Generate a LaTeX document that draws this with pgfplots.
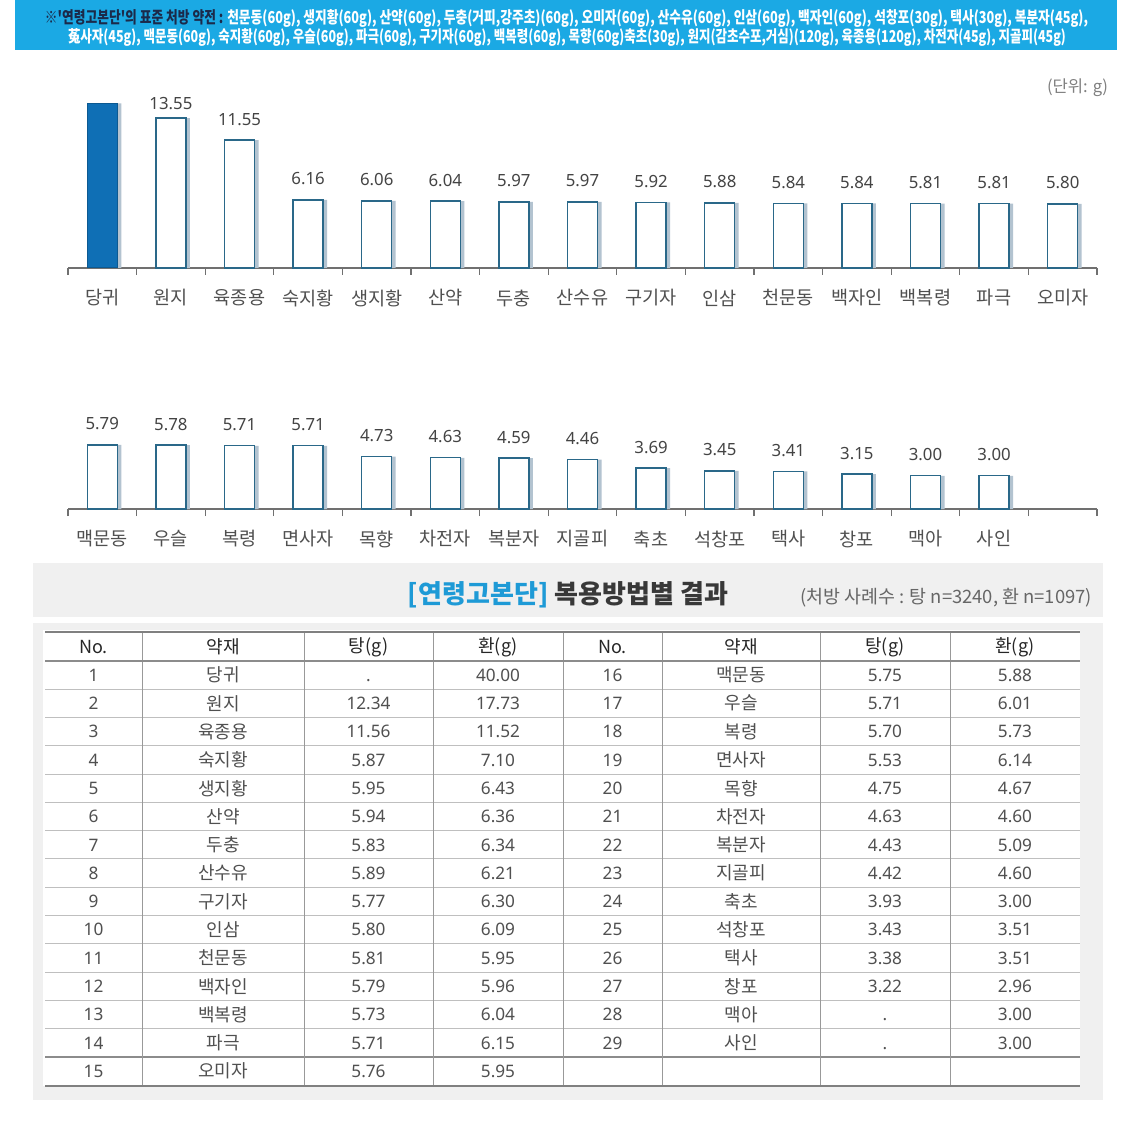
\documentclass[border=0pt]{standalone}
\usepackage{pgfplots}
\pgfplotsset{compat=1.18}
\usepackage{pgfplotstable}
\usepackage{graphicx}
\usepackage{fontspec}
\setmainfont{Noto Sans}
\newfontfamily\kr{Noto Sans CJK KR}
\definecolor{banner}{HTML}{1BA9E4}
\definecolor{navy}{HTML}{1B2A4A}
\definecolor{baredge}{HTML}{2A6889}
\definecolor{barfill}{HTML}{0F6FB5}
\definecolor{shadowc}{HTML}{B3C3D0}
\definecolor{txt}{HTML}{505050}
\definecolor{valtxt}{HTML}{444444}
\definecolor{titleblue}{HTML}{1E9AD6}
\definecolor{panel}{HTML}{F0F0F0}
\definecolor{axisgray}{HTML}{707070}

\pgfplotstableread{
x y
0 14.88
1 13.55
2 11.55
3 6.16
4 6.06
5 6.04
6 5.97
7 5.97
8 5.92
9 5.88
10 5.84
11 5.84
12 5.81
13 5.81
14 5.80
}\topdata

\pgfplotstableread{
x y
0 5.79
1 5.78
2 5.71
3 5.71
4 4.73
5 4.63
6 4.59
7 4.46
8 3.69
9 3.45
10 3.41
11 3.15
12 3.00
13 3.00
}\botdata

\pgfplotsset{
  barchart/.style={
    scale only axis, width=514.5pt,
    xmin=-0.5, xmax=14.5, ymin=0,
    axis x line*=bottom, axis y line=none, ytick=\empty,
    x axis line style={draw=axisgray, line width=0.6pt, -},
    xtick={0,...,14}, major tick length=0pt,
    minor xtick={-0.5,0.5,...,14.5}, minor tick length=3.5pt, tick align=outside,
    minor tick style={draw=axisgray, line width=0.6pt},
    xticklabel style={font=\kr\fontsize{9.3}{10}\selectfont, text=txt, anchor=center, yshift=-15pt},
    clip=false,
  },
  shadowbar/.style={ybar, bar width=15pt, bar shift=2pt, draw=none, fill=shadowc},
  valbar/.style={ybar, bar width=15pt, bar shift=0pt, draw=baredge, fill=white, line width=0.7pt,
    nodes near coords={\pgfmathprintnumber[fixed,fixed zerofill,precision=2,assume math mode=true]{\pgfplotspointmeta}},
    nodes near coords style={font=\fontsize{8.4}{9}\selectfont, text=valtxt, anchor=south, inner sep=0pt, yshift=7pt}},
}
\tikzset{
  tnum/.style={font=\fontsize{8.6}{9}\selectfont, text=txt, inner sep=0pt, text height=6.2pt, text depth=0pt},
  tkr/.style={font=\kr\fontsize{9}{10}\selectfont, text=txt, inner sep=0pt},
  thead/.style={font=\kr\fontsize{9}{10}\selectfont, text=black!85, inner sep=0pt},
}

\begin{document}
\begin{tikzpicture}
\useasboundingbox (0,0) rectangle (573pt,-564pt);
\fill[white] (0,0) rectangle (573pt,-564pt);

% banner
\fill[banner] (7.5pt,0pt) rectangle (558.5pt,-25pt);
\node[inner sep=0pt] at (283.25pt,-9pt) {\resizebox{521.5pt}{7pt}{\kr\bfseries\textcolor{navy}{※'연령고본단'의 표준 처방 약전 :} \textcolor{white}{천문동(60g), 생지황(60g), 산약(60g), 두충(거피,강주초)(60g), 오미자(60g), 산수유(60g), 인삼(60g), 백자인(60g), 석창포(30g), 택사(30g), 복분자(45g),}}};
\node[inner sep=0pt] at (283.5pt,-18.7pt) {\resizebox{499pt}{7pt}{\kr\bfseries\textcolor{white}{菟사자(45g), 맥문동(60g), 숙지황(60g), 우슬(60g), 파극(60g), 구기자(60g), 백복령(60g), 목향(60g)축초(30g), 원지(감초수포,거심)(120g), 육종용(120g), 차전자(45g), 지골피(45g)}}};

% unit
\node[inner sep=0pt] at (538.75pt,-44pt) {\resizebox{30.5pt}{!}{\kr\color{gray}(단위: g)}};

% top chart
\begin{axis}[barchart, at={(34pt,-134pt)}, anchor=south west, height=83pt, ymax=15,
  xticklabels={당귀,원지,육종용,숙지황,생지황,산약,두충,산수유,구기자,인삼,천문동,백자인,백복령,파극,오미자}]
\addplot[shadowbar] table[x=x,y=y] {\topdata};
\addplot[ybar, bar width=15pt, bar shift=0pt, draw=barfill!80!black, fill=barfill, line width=0.5pt, restrict x to domain=0:0] table[x=x,y=y] {\topdata};
\addplot[valbar, restrict x to domain=1:1, nodes near coords style={yshift=-3pt}] table[x=x,y=y] {\topdata};
\addplot[valbar, restrict x to domain=2:14] table[x=x,y=y] {\topdata};
\end{axis}

% bottom chart
\begin{axis}[barchart, at={(34pt,-254.5pt)}, anchor=south west, height=38.745pt, ymax=7,
  xticklabels={맥문동,우슬,복령,면사자,목향,차전자,복분자,지골피,축초,석창포,택사,창포,맥아,사인,{}}]
\addplot[shadowbar] table[x=x,y=y] {\botdata};
\addplot[valbar] table[x=x,y=y] {\botdata};
\end{axis}

% panel
\fill[panel] (16.5pt,-281.5pt) rectangle (551.5pt,-308.5pt);
\fill[panel] (16.5pt,-311.5pt) rectangle (551.5pt,-550pt);
\fill[white] (21.5pt,-315pt) rectangle (540pt,-543pt);

\node[inner sep=0pt] at (284pt,-297.5pt) {\resizebox{160pt}{!}{\kr\bfseries\textcolor{titleblue}{[연령고본단]} \textcolor{black!78}{복용방법별 결과}}};
\node[inner sep=0pt] at (473pt,-299pt) {\resizebox{146pt}{!}{\kr\textcolor{black!60}{(처방 사례수 : 탕 n=3240, 환 n=1097)}}};

% table grid
\foreach \r in {0,...,13} {
  \pgfmathsetmacro\yy{-(689.15+28.3*\r)/2}
  \draw[black!25, line width=0.5pt] (22.5pt,\yy pt) -- (540pt,\yy pt);
}
\draw[black!45, line width=1.1pt] (22.5pt,-528.5pt) -- (540pt,-528.5pt);
\foreach \xx in {142,304,433,563,662,820,950} {
  \draw[black!40, line width=0.5pt] (\xx/2 pt,-316pt) -- (\xx/2 pt,-543pt);
}
\draw[black!50, line width=1.2pt] (22.5pt,-316pt) -- (540pt,-316pt);
\draw[black!45, line width=1.3pt] (22.5pt,-330.5pt) -- (540pt,-330.5pt);
\draw[black!50, line width=1.2pt] (22.5pt,-543pt) -- (540pt,-543pt);

% header
\foreach \cx/\lab in {46.75/No., 111.5/약재, 184.25/탕(g), 249/환(g), 306.25/No., 370.5/약재, 442.5/탕(g), 507.5/환(g)} {
  \node[thead] at (\cx pt,-323.5pt) {\lab};
}

% rows
\foreach \n/\a/\t/\h [count=\i from 0] in {1/당귀/./40.00, 2/원지/12.34/17.73, 3/육종용/11.56/11.52, 4/숙지황/5.87/7.10, 5/생지황/5.95/6.43, 6/산약/5.94/6.36, 7/두충/5.83/6.34, 8/산수유/5.89/6.21, 9/구기자/5.77/6.30, 10/인삼/5.80/6.09, 11/천문동/5.81/5.95, 12/백자인/5.79/5.96, 13/백복령/5.73/6.04, 14/파극/5.71/6.15, 15/오미자/5.76/5.95} {
  \pgfmathsetmacro\yy{-(675+28.3*\i)/2}
  \node[tnum] at (46.75pt,\yy pt) {\n};
  \node[tkr] at (111.5pt,\yy pt) {\a};
  \node[tnum] at (184.25pt,\yy pt) {\t};
  \node[tnum] at (249pt,\yy pt) {\h};
}
\foreach \n/\a/\t/\h [count=\i from 0] in {16/맥문동/5.75/5.88, 17/우슬/5.71/6.01, 18/복령/5.70/5.73, 19/면사자/5.53/6.14, 20/목향/4.75/4.67, 21/차전자/4.63/4.60, 22/복분자/4.43/5.09, 23/지골피/4.42/4.60, 24/축초/3.93/3.00, 25/석창포/3.43/3.51, 26/택사/3.38/3.51, 27/창포/3.22/2.96, 28/맥아/./3.00, 29/사인/./3.00} {
  \pgfmathsetmacro\yy{-(675+28.3*\i)/2}
  \node[tnum] at (306.25pt,\yy pt) {\n};
  \node[tkr] at (370.5pt,\yy pt) {\a};
  \node[tnum] at (442.5pt,\yy pt) {\t};
  \node[tnum] at (507.5pt,\yy pt) {\h};
}
\end{tikzpicture}
\end{document}
